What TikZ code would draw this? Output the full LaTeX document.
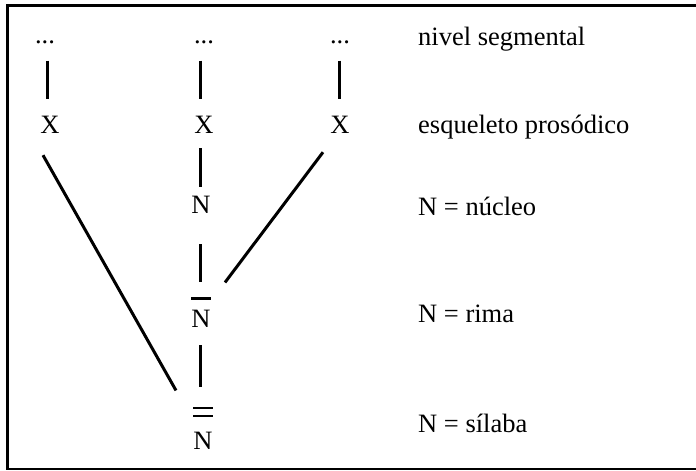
\documentclass[tikz,border=0pt]{standalone}
\usepackage{fontspec}
\setmainfont{Liberation Serif}
\begin{document}
\begin{tikzpicture}[x=1pt,y=-1pt,
  lbl/.style={font=\fontsize{26.5}{30}\selectfont, inner sep=0pt, anchor=base},
  side/.style={font=\fontsize{26.5}{30}\selectfont, inner sep=0pt, anchor=base west},
  ln/.style={line width=3pt},
  barline/.style={line width=2.2pt},
  frameline/.style={line width=2.4pt}]
\useasboundingbox (0,0) rectangle (696,471);
\draw[frameline] (720,5.5) -- (7.5,5.5) -- (7.5,469) -- (720,469);
% nodes
\node[lbl] (dl) at (45,43) {...};
\node[lbl] (dm) at (204,43) {...};
\node[lbl] (dr) at (340,43) {...};
\node[lbl] (xl) at (50,133) {X};
\node[lbl] (xm) at (204,133) {X};
\node[lbl] (xr) at (340,133) {X};
\node[lbl] (n1) at (201,213) {N};
\node[lbl] (n2) at (201,327) {N};
\node[lbl] (n3) at (203,449) {N};
% bars
\draw[barline] ([xshift=-10pt,yshift=11pt]n2.north) -- ([xshift=10pt,yshift=11pt]n2.north);
\draw[barline] ([xshift=-10pt,yshift=15.3pt]n3.north) -- ([xshift=10pt,yshift=15.3pt]n3.north);
\draw[barline] ([xshift=-10pt,yshift=23.3pt]n3.north) -- ([xshift=10pt,yshift=23.3pt]n3.north);
% connectors
\draw[ln] ([xshift=2pt,yshift=-17pt]dl.south) -- ([xshift=-3pt,yshift=16pt]xl.north);
\draw[ln] ([xshift=-4pt,yshift=-17pt]dm.south) -- ([xshift=-4pt,yshift=16pt]xm.north);
\draw[ln] ([xshift=-1pt,yshift=-17pt]dr.south) -- ([xshift=-1pt,yshift=16pt]xr.north);
\draw[ln] ([xshift=-4pt,yshift=-15pt]xm.south) -- ([xshift=-1pt,yshift=8pt]n1.north);
\draw[ln] ([xshift=-1pt,yshift=-31pt]n1.south) -- ([xshift=-1pt,yshift=27pt]n2.north);
\draw[ln] ([xshift=-1pt,yshift=-18pt]n2.south) -- ([xshift=-3pt,yshift=44pt]n3.north);
\draw[ln] ([xshift=-7pt,yshift=-22pt]xl.south) -- ([xshift=-27pt,yshift=41pt]n3.north);
\draw[ln] ([xshift=-17pt,yshift=-19pt]xr.south) -- ([xshift=24pt,yshift=27pt]n2.north);
% side labels
\node[side] (l1) at (418,45) {nivel segmental};
\node[side] (l2) at (418,133) {esqueleto prosódico};
\node[side] (l3) at (418,215) {N = núcleo};
\node[side] (l4) at (418,322) {N = rima};
\node[side] (l5) at (418,432) {N = sílaba};
\end{tikzpicture}
\end{document}
